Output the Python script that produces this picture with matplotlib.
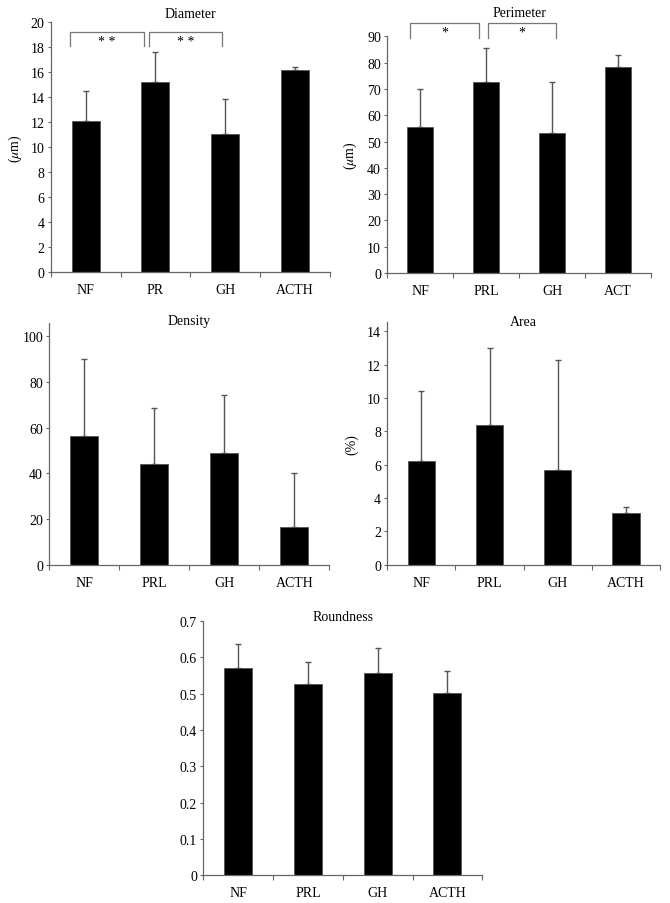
import numpy as np
import matplotlib
matplotlib.use('Agg')
import matplotlib.pyplot as plt

plt.rcParams['font.family'] = ['Liberation Serif', 'DejaVu Serif']
plt.rcParams['mathtext.fontset'] = 'stix'
plt.rcParams['font.size'] = 9

# data
groups_a = ['NF', 'PR', 'GH', 'ACTH']
groups_b = ['NF', 'PRL', 'GH', 'ACT']
groups = ['NF', 'PRL', 'GH', 'ACTH']

diameter = [12.1, 15.2, 11.1, 16.2]
diameter_sd = [2.4, 2.4, 2.8, 0.2]
perimeter = [55.7, 72.7, 53.2, 78.3]
perimeter_sd = [14.3, 13.0, 19.6, 4.7]
density = [56.5, 44.3, 49.0, 16.8]
density_sd = [33.5, 24.2, 25.3, 23.2]
area = [6.2, 8.4, 5.7, 3.1]
area_sd = [4.2, 4.6, 6.6, 0.35]
roundness = [0.572, 0.527, 0.558, 0.503]
roundness_sd = [0.064, 0.061, 0.069, 0.060]

# significance brackets: (x start, x end, label)
diameter_sig = [(-0.22, 0.83, '* *'), (0.91, 1.95, '* *')]
perimeter_sig = [(-0.15, 0.89, '*'), (1.02, 2.06, '*')]

W, H = 670, 904
fig = plt.figure(figsize=(W / 100, H / 100), dpi=100)


def make_ax(left, right, top, bottom):
    # pixel box -> figure fraction
    return fig.add_axes([left / W, 1 - bottom / H, (right - left) / W, (bottom - top) / H])


def bar_panel(ax, labels, vals, sd, ymax, ticks, title, title_y, ylabel=None, ylabel_x=None):
    x = np.arange(len(labels))
    ax.bar(x, vals, width=0.4, color='black', edgecolor='#555555', linewidth=0.6, zorder=2)
    ax.errorbar(x, vals, yerr=[np.zeros(len(sd)), sd], fmt='none', ecolor='#555555',
                elinewidth=1.0, capsize=2.2, capthick=1.0, zorder=1)
    ax.set_xlim(-0.5, len(labels) - 0.5)
    ax.set_ylim(0, ymax)
    ax.set_yticks(ticks)
    ax.set_yticklabels([('%g' % t) for t in ticks])
    ax.set_xticks(np.arange(len(labels) + 1) - 0.5)
    ax.set_xticklabels([])
    ax.set_xticks(x, minor=True)
    ax.set_xticklabels(labels, minor=True, fontsize=10)
    ax.tick_params(axis='x', which='minor', length=0, pad=8)
    ax.tick_params(axis='x', which='major', length=3.5, width=0.8, color='#666666')
    ax.tick_params(axis='y', length=2.5, width=0.8, color='#666666', pad=2, labelsize=10)
    for s in ['top', 'right']:
        ax.spines[s].set_visible(False)
    for s in ['left', 'bottom']:
        ax.spines[s].set_color('#666666')
        ax.spines[s].set_linewidth(0.9)
    bb = ax.get_position()
    fig.text((bb.x0 + bb.x1) / 2, 1 - title_y / H, title, ha='center', va='center', fontsize=10)
    if ylabel:
        fig.text(ylabel_x / W, (bb.y0 + bb.y1) / 2, ylabel, rotation=90, ha='center', va='center', fontsize=10)


def brackets(ax, sig, y0, y1, ytext):
    for xa, xb, lab in sig:
        ax.plot([xa, xa, xb, xb], [y0, y1, y1, y0], color='#777777', lw=0.9, clip_on=False)
        ax.text((xa + xb) / 2, ytext, lab, ha='center', va='center', fontsize=10)


ax1 = make_ax(50.7, 330, 23.3, 273.3)
bar_panel(ax1, groups_a, diameter, diameter_sd, 20, range(0, 21, 2), 'Diameter', 15,
          r'($\mu$m)', 15)
brackets(ax1, diameter_sig, 18.1, 19.25, 18.5)

ax2 = make_ax(387.3, 651, 37.3, 274)
bar_panel(ax2, groups_b, perimeter, perimeter_sd, 90, range(0, 91, 10), 'Perimeter', 13.3,
          r'($\mu$m)', 350)
brackets(ax2, perimeter_sig, 89.4, 95.1, 91.6)

ax3 = make_ax(49.3, 329.3, 324.3, 566.3)
bar_panel(ax3, groups, density, density_sd, 105.4, range(0, 101, 20), 'Density', 321)

ax4 = make_ax(387.3, 660, 323.3, 565.7)
bar_panel(ax4, groups, area, area_sd, 14.54, range(0, 15, 2), 'Area', 322.3, '(%)', 352)

ax5 = make_ax(203.3, 482.3, 622, 876.3)
bar_panel(ax5, groups, roundness, roundness_sd, 0.7, [0, 0.1, 0.2, 0.3, 0.4, 0.5, 0.6, 0.7],
          'Roundness', 617.3)

fig.savefig('out.png', dpi=100)
